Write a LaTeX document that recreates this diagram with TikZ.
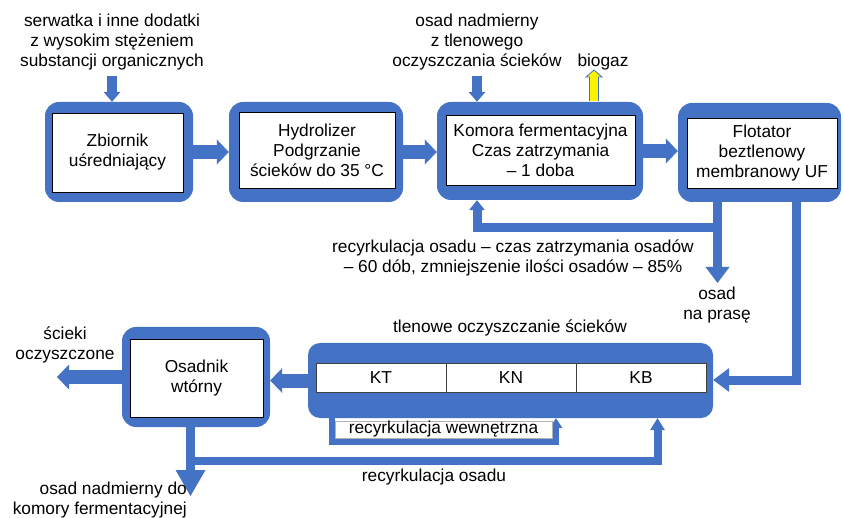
\documentclass[tikz,border=0pt]{standalone}
\usepackage{fontspec}
\setmainfont{Liberation Sans}
\usetikzlibrary{arrows.meta,calc}
\definecolor{bl}{HTML}{4472C4}
\newcommand\fsz{\fontsize{17.3pt}{20pt}\selectfont}
\begin{document}
\begin{tikzpicture}[x=1pt,y=-1pt,
  outer/.style={fill=bl, rounded corners=14pt, inner sep=0pt},
  inner/.style={fill=white, draw=black, line width=0.8pt, inner sep=0pt, align=center, font=\fsz},
  cell/.style={fill=white, draw=black!75, line width=0.8pt, inner sep=0pt, minimum width=130pt, minimum height=29pt, font=\fsz},
  txt/.style={align=center, font=\fsz, inner sep=0pt},
  fat/.style={draw=bl, line width=14pt, -{Triangle[length=12pt,width=25pt,line width=0pt]}},
  feed/.style={draw=bl, line width=10pt, -{Triangle[length=10pt,width=17pt,line width=0pt]}},
  thinarr/.style={draw=bl, line width=9pt, -{Triangle[length=10pt,width=16pt,line width=0pt]}},
  midarr/.style={draw=bl, line width=9pt, -{Triangle[length=16pt,width=24pt,line width=0pt]}},
  downarr/.style={draw=bl, line width=9pt, -{Triangle[length=26pt,width=30pt,line width=0pt]}},
  osadarr/.style={draw=bl, line width=8pt, -{Triangle[length=12pt,width=15pt,line width=0pt]}},
  tinyarr/.style={draw=bl, line width=6pt, -{Triangle[length=10pt,width=13pt,line width=0pt]}}
]
\path[use as bounding box] (0,0) rectangle (843,518);

% top row boxes
\node[outer, minimum width=148pt, minimum height=100pt] (o1) at (119,152) {};
\node[inner, minimum width=131pt, minimum height=79pt] (b1) at (117.5,152.5) {Zbiornik\\uśredniający};
\node[outer, minimum width=174pt, minimum height=100pt] (o2) at (316,152) {};
\node[inner, minimum width=156pt, minimum height=76pt] (b2) at (317,150) {Hydrolizer\\Podgrzanie\\ścieków do 35 °C};
\node[outer, minimum width=206pt, minimum height=98pt] (o3) at (540,151) {};
\node[inner, minimum width=189pt, minimum height=70pt] (b3) at (540.5,150) {Komora fermentacyjna\\Czas zatrzymania\\– 1 doba};
\node[outer, minimum width=163pt, minimum height=99pt] (o4) at (759.5,152.5) {};
\node[inner, minimum width=150pt, minimum height=70pt] (b4) at (762,153) {Flotator\\beztlenowy\\membranowy UF};

% bottom row boxes
\node[outer, rounded corners=12pt, minimum width=405pt, minimum height=75pt] (tl) at (510.5,380.5) {};
\node[cell] (kt) at (381,377.5) {KT};
\node[cell] (kn) at (511,377.5) {KN};
\node[cell] (kb) at (641,377.5) {KB};
\node[outer, minimum width=148pt, minimum height=100pt] (os) at (196,377) {};
\node[inner, minimum width=133pt, minimum height=78pt] (bos) at (196.5,378) {Osadnik\\wtórny};

% main flow arrows
\draw[fat] (o1.east) -- (o2.west);
\draw[fat] (o2.east) -- (o2.east -| o3.west);
\draw[fat] (o3.east) -- (o3.east -| o4.west);
\draw[fat] (tl.west) -- (tl.west -| os.east);
\coordinate (out) at (57,380);
\draw[fat] (os.west) -- (out |- os.west);

% feeds
\coordinate (in1) at (112,76);
\draw[feed] (in1) -- (in1 |- o1.north);
\coordinate (in3) at (477,76);
\draw[feed] (in3) -- (in3 |- o3.north);

% biogaz
\coordinate (bg) at (594,101);
\draw[fill=yellow, draw=bl, line width=0.8pt]
  ($(bg)+(-4.5,0)$) -- ($(bg)+(-4.5,-24)$) -- ($(bg)+(-8,-24)$) -- ($(bg)+(0,-31)$)
  -- ($(bg)+(8,-24)$) -- ($(bg)+(4.5,-24)$) -- ($(bg)+(4.5,0)$);

% recirculation from flotator
\coordinate (k1) at (717.5,227.5);
\coordinate (k2) at (477,227.5);
\draw[thinarr] (k1 |- o4.south) -- (k1) -- (k2) -- (k2 |- o3.south);
\coordinate (prasa) at (717.5,283);
\draw[midarr] (k1 |- o4.south) -- (prasa);
\coordinate (k3) at (796.5,380);
\draw[midarr] (k3 |- o4.south) -- (k3) -- (k3 -| tl.east);

% osadnik outputs
\coordinate (nadm) at (190.5,496);
\draw[downarr] (nadm |- os.south) -- (nadm);
\coordinate (k4) at (190.5,461);
\coordinate (k5) at (657.5,461);
\draw[osadarr] (k4) -- (k5) -- (k5 |- tl.south);

% internal recirculation
\coordinate (k6) at (332,441.5);
\coordinate (k7) at (556,441.5);
\draw[tinyarr] (k6 |- tl.south) -- (k6) -- (k7) -- (k7 |- tl.south);
\node[fill=white, draw=black!30, line width=0.5pt, font=\fsz, inner sep=0pt,
      minimum width=217pt, text height=12.5pt, text depth=4pt] (wew) at (443.5,429.5) {recyrkulacja wewnętrzna};

% labels
\node[txt] (t1) at (112,42) {serwatka i inne dodatki\\z wysokim stężeniem\\substancji organicznych};
\node[txt] (t3) at (477,42) {osad nadmierny\\z tlenowego\\oczyszczania ścieków};
\node[txt] (tbg) at (603,62) {biogaz};
\node[txt] (trec) at (513,258) {recyrkulacja osadu – czas zatrzymania osadów\\– 60 dób, zmniejszenie ilości osadów – 85\%};
\node[txt] (tpr) at (717,305) {osad\\na prasę};
\node[txt] (ttl) at (510,328) {tlenowe oczyszczanie ścieków};
\node[txt] (tsc) at (65,345) {ścieki\\oczyszczone};
\node[txt, align=right, anchor=east] (tnad) at (187,500) {osad nadmierny do\\komory fermentacyjnej};
\node[txt] (tros) at (434,477) {recyrkulacja osadu};
\end{tikzpicture}
\end{document}
